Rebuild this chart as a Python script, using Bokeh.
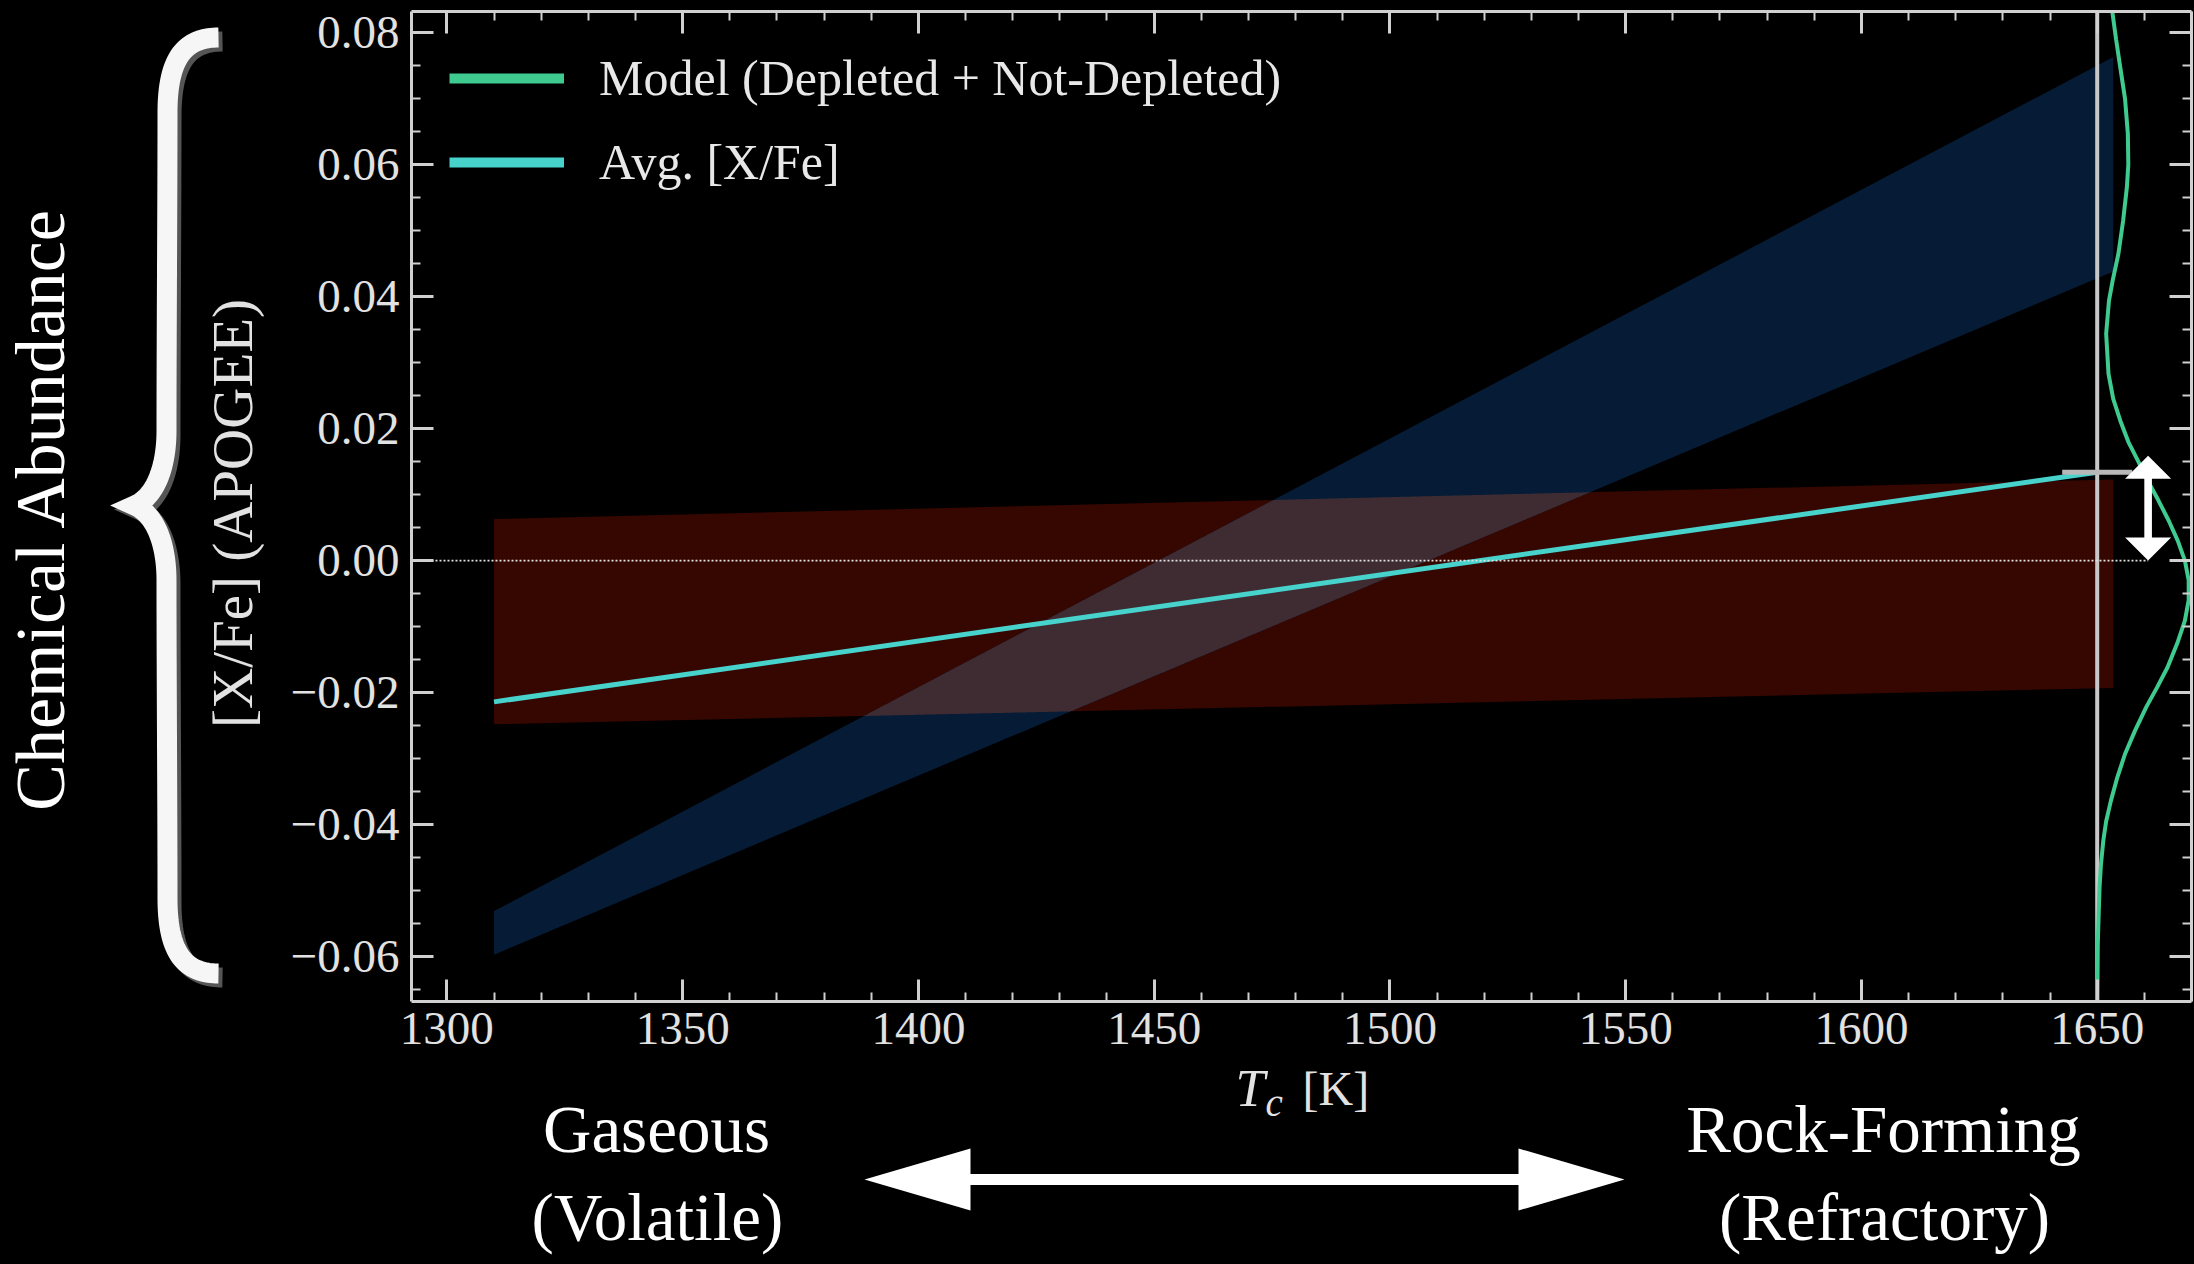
import numpy as np
from bokeh.plotting import figure
from bokeh.layouts import row, column
from bokeh.models import FixedTicker, LinearAxis, Range1d, Legend, LegendItem
from bokeh.core.properties import value
from bokeh.embed import file_html
from bokeh.resources import INLINE

# ---------------- data ----------------
x_ticks = [1300, 1350, 1400, 1450, 1500, 1550, 1600, 1650]
x_tick_labels = ["1300", "1350", "1400", "1450", "1500", "1550", "1600", "1650"]
y_ticks = [-0.06, -0.04, -0.02, 0.0, 0.02, 0.04, 0.06, 0.08]
y_tick_labels = ["\u22120.06", "\u22120.04", "\u22120.02", "0.00", "0.02", "0.04", "0.06", "0.08"]

band_tc = [1310.0, 1653.4]
red_lower = [-0.0248, -0.0193]
red_upper = [0.0063, 0.0123]
blue_lower = [-0.0597, 0.0438]
blue_upper = [-0.0531, 0.0763]

avg_tc = [1310.0, 1650.0]
avg_xfe = [-0.0214, 0.0134]

model_base_tc = 1650.0
model_xfe = [0.0832, 0.0790, 0.0747, 0.0700, 0.0647, 0.0600, 0.0566, 0.0515, 0.0465,
             0.0425, 0.0394, 0.0344, 0.0283, 0.0245, 0.0212, 0.0180, 0.0152, 0.0120,
             0.0091, 0.0060, 0.0030, 0.0000, -0.0030, -0.0060, -0.0091, -0.0125,
             -0.0162, -0.0192, -0.0222, -0.0258, -0.0293, -0.0330, -0.0364, -0.0395,
             -0.0424, -0.0460, -0.0495, -0.0540, -0.0586, -0.0668]
model_tc = [1653.2, 1654.0, 1654.9, 1655.9, 1656.5, 1656.6, 1656.3, 1655.5, 1654.5,
            1653.3, 1652.5, 1651.9, 1652.4, 1653.4, 1654.9, 1656.6, 1658.6, 1660.8,
            1663.0, 1665.2, 1667.1, 1668.6, 1669.4, 1669.4, 1668.6, 1667.0,
            1664.9, 1662.7, 1660.4, 1658.0, 1655.9, 1654.2, 1652.9, 1651.9,
            1651.3, 1650.8, 1650.5, 1650.3, 1650.1, 1650.0]

arrow_tc = 1660.8
arrow_lo = 0.0
arrow_hi = 0.0159

legend_labels = ["Model (Depleted + Not-Depleted)", "Avg. [X/Fe]"]
x_label_parts = ["T", "c", "[K]"]
y_label = "[X/Fe] (APOGEE)"
side_label = "Chemical Abundance"
left_texts = ["Gaseous", "(Volatile)"]
right_texts = ["Rock-Forming", "(Refractory)"]

# ---------------- layout constants (canvas pixels) ----------------
W, H = 2194, 1264
LW = 280          # width of the left strip (brace, side label, y label)
MH = 1060         # height of the top row (main plot)
BH = H - MH       # height of the bottom decoration strip
FL, FR, FT, FB = 411, 2191, 11, 1001
X0, X1 = 1292.5, 1670.0
Y0, Y1 = -0.0668, 0.0832
KX = (X1 - X0) / (FR - FL)
KY = (Y1 - Y0) / (FB - FT)
BASE_SHIFT = 0.43   # measured offset of the alphabetic baseline (in em)

GREEN = "#3fca8f"
CYAN = "#47d2cb"
RED = "#360700"
BLUE = "#061b36"
OVERLAP = "#3f2c33"
AXC = "#d0d0d0"
TXT = "#e2e2e2"
SERIF = "Liberation Serif"

# ---------------- main plot ----------------
p = figure(width=W - LW, height=MH, x_range=Range1d(X0, X1), y_range=Range1d(Y0, Y1),
           output_backend="svg", toolbar_location=None,
           min_border_left=FL - LW, min_border_right=W - FR, min_border_top=FT,
           min_border_bottom=MH - FB,
           background_fill_color="black", border_fill_color="black",
           outline_line_color=None)
p.grid.visible = False

x_minor = [float(v) for v in np.arange(1290, 1671, 10)]
y_minor = [round(float(v), 4) for v in np.arange(-0.065, 0.0851, 0.005)]


def style_axis(ax, ticks, minor, labels, show):
    ax.ticker = FixedTicker(ticks=ticks, minor_ticks=minor)
    ax.axis_line_color = AXC
    ax.axis_line_width = 3
    ax.major_tick_line_color = AXC
    ax.major_tick_line_width = 3
    ax.minor_tick_line_color = AXC
    ax.minor_tick_line_width = 2
    ax.major_tick_in = 22
    ax.major_tick_out = 0
    ax.minor_tick_in = 9
    ax.minor_tick_out = 0
    if show:
        ax.major_label_overrides = dict(zip(ticks, labels))
        ax.major_label_text_font = SERIF
        ax.major_label_text_font_size = "47px"
        ax.major_label_text_color = TXT
    else:
        ax.major_label_overrides = {t: "" for t in ticks}
        ax.major_label_text_font_size = "1px"
        ax.major_label_text_alpha = 0
        ax.major_label_standoff = 0
        ax.axis_label_standoff = 0


xb = p.below[0]
yl = p.left[0]
style_axis(xb, x_ticks, x_minor, x_tick_labels, True)
style_axis(yl, y_ticks, y_minor, y_tick_labels, True)
xb.major_label_standoff = 11
yl.major_label_standoff = 12

xt = LinearAxis()
yr = LinearAxis()
style_axis(xt, x_ticks, x_minor, x_tick_labels, False)
style_axis(yr, y_ticks, y_minor, y_tick_labels, False)
p.add_layout(xt, "above")
p.add_layout(yr, "right")

# bands
p.varea(x=band_tc, y1=red_lower, y2=red_upper, fill_color=RED)
p.varea(x=band_tc, y1=blue_lower, y2=blue_upper, fill_color=BLUE)
xs = np.linspace(band_tc[0], band_tc[1], 800)
lo = np.maximum(np.interp(xs, band_tc, red_lower), np.interp(xs, band_tc, blue_lower))
hi = np.minimum(np.interp(xs, band_tc, red_upper), np.interp(xs, band_tc, blue_upper))
p.varea(x=xs, y1=lo, y2=np.maximum(lo, hi), fill_color=OVERLAP)

# lines
p.line(x=avg_tc, y=avg_xfe, line_color=CYAN, line_width=5)
p.line(x=[model_base_tc, model_base_tc], y=[Y0, Y1], line_color="#c8c8c8", line_width=4)
p.scatter(x=[avg_tc[-1]], y=[avg_xfe[-1]], marker="dash", size=70,
          line_color="#b8b8b8", line_width=5)
p.line(x=model_tc, y=model_xfe, line_color=GREEN, line_width=4)
p.line(x=[X0, arrow_tc], y=[0.0, 0.0], line_color="#e0e0e0", line_width=1.6,
       line_dash="2 2")

# small double arrow (head sizes in pixels converted through the scales)
hl, hh, sh = 23, 23, 3.8
ax_x = [arrow_tc, arrow_tc + hh * KX, arrow_tc + sh * KX, arrow_tc + sh * KX,
        arrow_tc + hh * KX, arrow_tc, arrow_tc - hh * KX, arrow_tc - sh * KX,
        arrow_tc - sh * KX, arrow_tc - hh * KX]
ax_y = [arrow_hi, arrow_hi - hl * KY, arrow_hi - hl * KY, arrow_lo + hl * KY,
        arrow_lo + hl * KY, arrow_lo, arrow_lo + hl * KY, arrow_lo + hl * KY,
        arrow_hi - hl * KY, arrow_hi - hl * KY]
p.patch(x=ax_x, y=ax_y, fill_color="white", line_color=None)

# legend (thick sample lines, as in the reference)
leg_green = p.line(x=[np.nan], y=[np.nan], line_color=GREEN, line_width=10)
leg_cyan = p.line(x=[np.nan], y=[np.nan], line_color=CYAN, line_width=10)
legend = Legend(items=[LegendItem(label=legend_labels[0], renderers=[leg_green]),
                       LegendItem(label=legend_labels[1], renderers=[leg_cyan])],
                location="top_left", margin=26, padding=12, spacing=26,
                glyph_width=115, glyph_height=52, label_height=52, label_standoff=35,
                label_text_font=SERIF, label_text_font_size="50px",
                label_text_color="#e8e8e8", background_fill_alpha=0,
                border_line_alpha=0)
p.add_layout(legend)


# ---------------- decoration strips (pixel coordinates) ----------------
def strip(w, h, yr_, top=0, bot=0):
    f = figure(width=w, height=h, x_range=Range1d(0, w), y_range=Range1d(*yr_),
               output_backend="svg", toolbar_location=None,
               x_axis_type=None, y_axis_type=None, min_border=0,
               min_border_left=0, min_border_right=0, min_border_top=top,
               min_border_bottom=bot, background_fill_color="black",
               border_fill_color="black", outline_line_color=None)
    f.grid.visible = False
    return f


def bez(p0, p1, p2, p3, n=40):
    t = np.linspace(0, 1, n)[:, None]
    p0, p1, p2, p3 = map(np.array, (p0, p1, p2, p3))
    return ((1 - t) ** 3) * p0 + 3 * ((1 - t) ** 2) * t * p1 + 3 * (1 - t) * t ** 2 * p2 + t ** 3 * p3


# left strip: brace, "Chemical Abundance", y-axis title  (frame rows match the main frame)
left = strip(LW, MH, (MH - FB, MH - FT), top=FT, bot=MH - FB)
MID = 505.0
top = np.vstack([bez((218, 37), (184, 37), (167, 58), (167, 112)),
                 bez((167, 112), (167, 200), (166, 340), (166, 430))[1:],
                 bez((166, 430), (166, 470), (153, 497), (134, MID))[1:]])
bot = top[::-1].copy()
bot[:, 1] = 2 * MID - bot[:, 1]
path = np.vstack([top, bot[1:]])
for off, col in ((4, "#555555"), (0, "#f6f6f6")):
    left.line(x=path[:, 0] + off, y=MH - (path[:, 1] + off), line_color=col,
              line_width=20, line_join="miter", line_cap="butt")
side_px = 70
left.text(x=[70 - BASE_SHIFT * side_px], y=[MH - 508], text=[side_label], angle=np.pi / 2,
          text_align="center", text_baseline="alphabetic", text_font=value(SERIF),
          text_font_size=f"{side_px}px", text_color="white")
ylab_px = 57
left.text(x=[257 - BASE_SHIFT * ylab_px], y=[MH - 513], text=[y_label], angle=np.pi / 2,
          text_align="center", text_baseline="alphabetic", text_font=value(SERIF),
          text_font_size=f"{ylab_px}px", text_color=TXT)

# bottom strip: x label, Gaseous / Rock-Forming, double arrow
bottom = strip(W, BH, (0, BH))


def by(cy, size=0.0):
    return H - cy + BASE_SHIFT * size


bottom.text(x=[1235], y=[by(1110, 53)], text=[x_label_parts[0]], text_font=value(SERIF),
            text_font_style="italic", text_font_size="53px", text_color=TXT,
            text_baseline="alphabetic", text_align="left")
bottom.text(x=[1265], y=[by(1119, 39)], text=[x_label_parts[1]], text_font=value(SERIF),
            text_font_style="italic", text_font_size="39px", text_color=TXT,
            text_baseline="alphabetic", text_align="left")
bottom.text(x=[1302], y=[by(1109, 48)], text=[x_label_parts[2]], text_font=value(SERIF),
            text_font_size="48px", text_color=TXT,
            text_baseline="alphabetic", text_align="left")

big = 67
bottom.text(x=[656, 657, 1883, 1884],
            y=[by(1157, big), by(1245, big), by(1157, big), by(1245, big)],
            text=[left_texts[0], left_texts[1], right_texts[0], right_texts[1]],
            text_font=value(SERIF), text_font_size=f"{big}px", text_color="white",
            text_align="center", text_baseline="alphabetic")

ty, hw, hlen, sw = 1179, 31, 106, 5.5
lt, rt = 864, 1624
arr = np.array([(lt, ty), (lt + hlen, ty - hw), (lt + hlen, ty - sw), (rt - hlen, ty - sw),
                (rt - hlen, ty - hw), (rt, ty), (rt - hlen, ty + hw), (rt - hlen, ty + sw),
                (lt + hlen, ty + sw), (lt + hlen, ty + hw)], dtype=float)
bottom.patch(x=arr[:, 0], y=by(arr[:, 1]), fill_color="white", line_color=None)

layout = column(row(left, p, spacing=0), bottom, spacing=0)

html = file_html(layout, INLINE, title="Chemical abundance vs condensation temperature")
html = html.replace("<head>", "<head><style>html,body{margin:0;padding:0;background:#000;}</style>", 1)
open("out.html", "w").write(html)
